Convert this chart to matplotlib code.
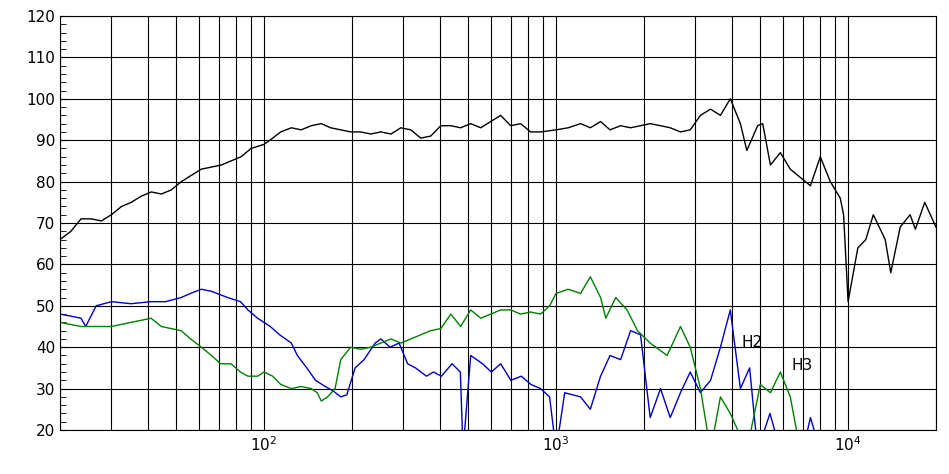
import matplotlib
matplotlib.use("Agg")
import matplotlib.pyplot as plt
from matplotlib.ticker import LogLocator, FixedLocator, NullFormatter

spl_f = [20,21.8,23.6,25.6,27.7,30,32.5,35.1,38,41.1,44.5,48.1,52.1,56.3,60.9,65.9,71.3,77.1,83.4,90.2,100,107,114,124,134,145,157,169,183,198,214,232,251,272,294,318,344,372,403,436,471,510,552,597,646,699,756,818,885,1000,1100,1213,1310,1420,1530,1663,1800,1946,2100,2278,2460,2666,2880,3121,3380,3654,3950,4277,4500,4900,5100,5420,5860,6340,6860,7430,8030,8690,9400,9650,10000,10800,11500,12200,13400,14000,15080,16300,17000,18300,20000]
spl_db = [66,68,71,71,70.5,72,74,75,76.5,77.5,77,78,80,81.5,83,83.5,84,85,86,88,89,90.5,92,93,92.5,93.5,94,93,92.5,92,92,91.5,92,91.5,93,92.5,90.5,91,93.5,93.5,93,94,93,94.5,96,93.5,94,92,92,92.5,93,94,93,94.5,92.5,93.5,93,93.5,94,93.5,93,92,92.5,96,97.5,96,100,94,87.5,93.5,94,84,87,83,81,79,86,80,76,72,51,64,66,72,66,58,69,72,68.5,75,69]

h2_f = [20,21.8,23.6,24.5,26.6,30,35,41,46,52,56,61,66,75,83,88,95,105,113,124,130,140,150,162,172,183,192,205,220,240,251,270,290,310,330,360,380,405,440,470,480,510,560,600,646,700,760,820,885,950,1000,1070,1213,1310,1420,1530,1663,1800,1946,2100,2278,2460,2666,2880,3121,3380,3654,3950,4277,4600,4900,5400,5860,7000,7430,8030]
h2_db = [48,47.5,47,45,50,51,50.5,51,51,52,53,54,53.5,52,51,49,47,45,43,41,38,35,32,30.5,29.5,28,28.5,35,37,41,42,40,41,36,35,33,34,33,36,34,15,38,36,34,36,32,33,31,30,28,15,29,28,25,33,38,37,44,43,23,30,23,29,34,29,32,40,49,30,35,15,24,15,15,23,15]

h3_f = [20,23.6,30,35,38,41,44.5,48,52,56,61,66,71,77,83,88,95,100,107,114,124,134,145,152,157,165,175,183,198,214,232,251,272,294,318,344,372,403,436,471,510,552,597,646,699,756,818,885,950,1000,1100,1213,1310,1420,1480,1600,1750,1900,2100,2400,2666,2880,3121,3380,3654,3950,4500,5006,5420,5860,6340,6860]
h3_db = [46,45,45,46,46.5,47,45,44.5,44,42,40,38,36,36,34,33,33,34,33,31,30,30.5,30,29,27,28,30,37,40,39.5,40,41,42,41,42,43,44,44.5,48,45,49,47,48,49,49,48,48.5,48,50,53,54,53,57,52,47,52,49,44,41,38,45,40,30,15,28,24,15,31,29,34,28,15]

y_ticks = [20,30,40,50,60,70,80,90,100,110,120]

fig = plt.figure(figsize=(9.49,4.74), dpi=100)
ax = fig.add_axes([60/949, 44/474, 876/949, 414/474])
ax.plot(spl_f, spl_db, color='black', lw=1)
ax.plot(h2_f, h2_db, color='#0000c0', lw=1)
ax.plot(h3_f, h3_db, color='#008000', lw=1)
ax.set_xscale('log')
ax.set_xlim(20, 20000)
ax.set_ylim(20, 120)
ax.set_yticks(y_ticks)
ax.yaxis.set_minor_locator(FixedLocator([v for v in range(20,121,2)]))
ax.xaxis.set_major_locator(FixedLocator([100,1000,10000]))
ax.xaxis.set_minor_locator(LogLocator(base=10, subs=range(2,10)))
ax.xaxis.set_minor_formatter(NullFormatter())
ax.set_xticklabels([r'$10^2$', r'$10^3$', r'$10^4$'])
ax.grid(True, which='major', color='black', lw=0.8)
ax.grid(True, which='minor', axis='x', color='black', lw=0.8)
ax.tick_params(axis='y', which='both', direction='in', labelsize=11, left=True, right=False)
ax.tick_params(axis='y', which='minor', length=4)
ax.tick_params(axis='x', which='both', length=0, labelsize=11)
for s in ax.spines.values():
    s.set_color('black')
ax.text(4300, 40, 'H2', fontsize=11)
ax.text(6400, 34.5, 'H3', fontsize=11)
fig.savefig('out.png', dpi=100)
